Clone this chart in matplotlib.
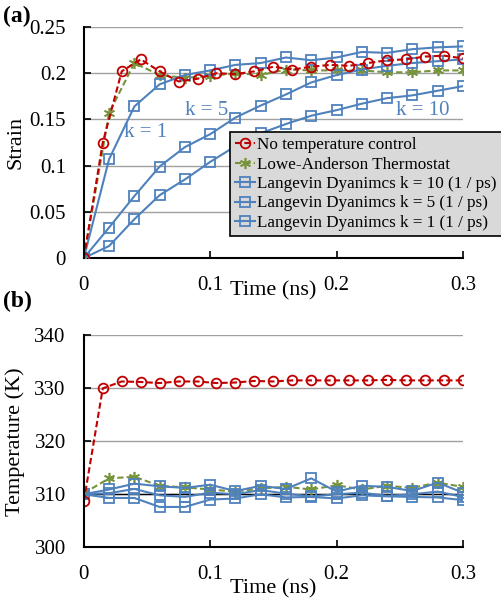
import numpy as np
import matplotlib
matplotlib.use("Agg")
import matplotlib.pyplot as plt

plt.rcParams['font.family'] = ['Liberation Serif', 'DejaVu Serif']

# time axes (ns)
t_red = np.arange(21) * 0.015
t_20 = np.arange(16) * 0.02

# (a) strain
strain_none = [0, 0.125, 0.202, 0.215, 0.202, 0.191, 0.194, 0.200, 0.199, 0.202, 0.207,
               0.204, 0.207, 0.209, 0.208, 0.211, 0.214, 0.215, 0.218, 0.219, 0.216]
strain_lowe = [0, 0.157, 0.211, 0.198, 0.195, 0.197, 0.200, 0.198, 0.204, 0.203, 0.203,
               0.203, 0.201, 0.201, 0.203, 0.203]
strain_k10 = [0, 0.013, 0.042, 0.068, 0.085, 0.104, 0.121, 0.135, 0.145, 0.154, 0.160,
              0.167, 0.173, 0.176, 0.181, 0.186]
strain_k5 = [0, 0.033, 0.067, 0.099, 0.120, 0.134, 0.152, 0.165, 0.177, 0.190, 0.198,
             0.204, 0.208, 0.211, 0.213, 0.215]
strain_k1 = [0, 0.107, 0.164, 0.188, 0.198, 0.203, 0.209, 0.211, 0.217, 0.214, 0.217,
             0.223, 0.222, 0.226, 0.228, 0.229]

# (b) temperature
temp_none = [308.7, 330.0, 331.3, 331.2, 331.0, 331.3, 331.3, 331.0, 331.1, 331.4, 331.3,
             331.5, 331.5, 331.5, 331.5, 331.5, 331.6, 331.5, 331.5, 331.5, 331.5]
temp_lowe = [310.2, 313.0, 313.3, 311.6, 311.3, 310.9, 310.5, 311.1, 311.4, 310.9, 311.7,
             310.9, 311.6, 311.2, 312.2, 311.4]
temp_k10 = [310.0, 310.9, 312.0, 311.5, 311.2, 311.8, 310.6, 311.6, 311.0, 313.0, 310.5,
            311.6, 311.4, 310.6, 312.2, 310.3]
temp_k5 = [310.0, 310.2, 311.0, 309.8, 309.5, 310.3, 310.0, 310.8, 310.1, 309.6, 310.0,
           310.3, 309.7, 310.0, 310.5, 309.5]
temp_k1 = [310.0, 309.3, 309.3, 307.6, 307.6, 309.0, 309.2, 310.0, 309.4, 309.5, 309.2,
           309.8, 309.6, 309.5, 309.4, 308.9]

labels = ["No temperature control", "Lowe-Anderson Thermostat",
          "Langevin Dyanimcs k = 10 (1 / ps)", "Langevin Dyanimcs k = 5 (1 / ps)",
          "Langevin Dyanimcs k = 1 (1 / ps)"]

red = '#c00000'
green = '#77933c'
blue = '#4f81bd'
star = (6, 2, 0)

fig = plt.figure(figsize=(5.02, 6.0), dpi=100)
ax1 = fig.add_axes([0.167, 0.570, 0.755, 0.385])
ax2 = fig.add_axes([0.167, 0.088, 0.755, 0.353])


def draw(ax, y_none, y_lowe, y_k10, y_k5, y_k1):
    h = []
    h += ax.plot(t_red, y_none, color=red, ls='--', lw=1.5, marker='o', ms=7,
                 mfc='none', mec=red, mew=1.3, dashes=(3, 1.5), zorder=4)
    h += ax.plot(t_20, y_lowe, color=green, ls='--', lw=1.5, marker=star, ms=8,
                 mec=green, mew=1.2, dashes=(3, 1.5), zorder=3)
    for y in (y_k10, y_k5, y_k1):
        h += ax.plot(t_20, y, color=blue, lw=1.5, marker='s', ms=7, mfc='none',
                     mec=blue, mew=1.3, zorder=3)
    return h


handles = draw(ax1, strain_none, strain_lowe, strain_k10, strain_k5, strain_k1)
draw(ax2, temp_none, temp_lowe, temp_k10, temp_k5, temp_k1)

for ax in (ax1, ax2):
    ax.set_xlim(0, 0.3)
    ax.set_xticks([0, 0.1, 0.2, 0.3])
    ax.set_xticklabels(['0', '0.1', '0.2', '0.3'])
    ax.spines['top'].set_visible(False)
    ax.spines['right'].set_visible(False)
    ax.spines['left'].set_linewidth(1.5)
    ax.spines['bottom'].set_linewidth(1.5)
    ax.spines['left'].set_zorder(5)
    ax.tick_params(direction='in', length=5, width=1.2, pad=13, labelsize=15)
    ax.tick_params(axis='y', pad=13)
    ax.grid(axis='y', color='#a0a0a0', lw=1)
    ax.set_axisbelow(True)
    ax.set_xlabel("Time (ns)", fontsize=16)
    ax.yaxis.set_label_coords(-0.155, 0.5)

ax1.set_ylim(0, 0.25)
ax1.set_yticks([0, 0.05, 0.1, 0.15, 0.2, 0.25])
ax1.set_yticklabels(['0', '0.05', '0.1', '0.15', '0.2', '0.25'])
ax1.set_ylabel("Strain", fontsize=16)
ax1.xaxis.set_label_coords(0.5, -0.1)

ax2.set_ylim(300, 340)
ax2.set_yticks([300, 310, 320, 330, 340])
ax2.axhline(310, color='black', lw=1, zorder=2)
ax2.set_ylabel("Temperature (K)", fontsize=16)
ax2.xaxis.set_label_coords(0.5, -0.15)

ax1.text(0.049, 0.136, "k = 1", color=blue, fontsize=15, ha='center', va='center')
ax1.text(0.097, 0.160, "k = 5", color=blue, fontsize=15, ha='center', va='center')
ax1.text(0.268, 0.160, "k = 10", color=blue, fontsize=15, ha='center', va='center')

leg = ax1.legend(handles, labels, loc='upper left', bbox_to_anchor=(0.385, 0.545),
                 fontsize=12.3, frameon=True, fancybox=False, facecolor='#d9d9d9',
                 edgecolor='black', framealpha=1, handlelength=1.2, handletextpad=0.1,
                 labelspacing=0.2, borderpad=0.3, borderaxespad=0)
leg.get_frame().set_linewidth(1.2)
leg.set_zorder(10)

fig.text(0.005, 0.99, "(a)", fontsize=17, fontweight='bold', va='top', ha='left')
fig.text(0.005, 0.515, "(b)", fontsize=17, fontweight='bold', va='top', ha='left')

fig.savefig("out.png", dpi=100)
